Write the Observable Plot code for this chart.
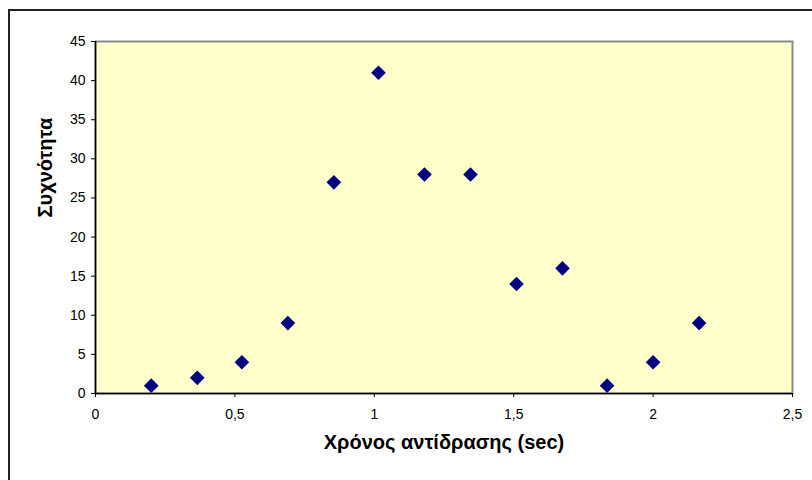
<!DOCTYPE html>
<html>
<head>
<meta charset="utf-8">
<script src="https://cdn.jsdelivr.net/npm/d3@7"></script>
<script src="https://cdn.jsdelivr.net/npm/@observablehq/plot@0.6"></script>
<style>
  body { margin: 0; background: #fff; }
  #wrap { position: relative; width: 812px; height: 480px; overflow: hidden; }
  #border { position: absolute; left: 8px; top: 9px; width: 900px; height: 600px; border: 2px solid #222; box-sizing: border-box; pointer-events: none; }
  svg { font-family: "Liberation Sans", Arial, sans-serif; }
</style>
</head>
<body>
<div id="wrap"><div id="border"></div></div>
<script>
// Reaction time (sec) bin centres and frequencies
const times = [0.2, 0.365, 0.525, 0.69, 0.855, 1.015, 1.18, 1.345, 1.51, 1.675, 1.835, 2.0, 2.165];
const freqs = [1, 2, 4, 9, 27, 41, 28, 28, 14, 16, 1, 4, 9];
const xTicks = [0, 0.5, 1, 1.5, 2, 2.5];
const yTicks = [0, 5, 10, 15, 20, 25, 30, 35, 40, 45];
const xTitle = "Χρόνος αντίδρασης (sec)";
const yTitle = "Συχνότητα";

const data = times.map((t, i) => ({t, f: freqs[i]}));
const fmt = v => String(v).replace(".", ",");

const chart = Plot.plot({
  width: 812,
  height: 480,
  marginLeft: 95,
  marginRight: 20,
  marginTop: 41,
  marginBottom: 87,
  style: {fontFamily: '"Liberation Sans", Arial, sans-serif', fontSize: "14px", color: "#000", background: "transparent"},
  x: {domain: [0, 2.5]},
  y: {domain: [0, 45]},
  marks: [
    Plot.frame({fill: "#FFFFCC", stroke: "#8a8a8a", strokeWidth: 2}),
    Plot.axisX({ticks: xTicks, tickFormat: fmt, tickSize: 4, tickPadding: 12, label: null, stroke: "#000", fontSize: 14}),
    Plot.axisY({ticks: yTicks, tickSize: 4, tickPadding: 6, label: null, stroke: "#000", fontSize: 14}),
    Plot.ruleY([0], {stroke: "#000", strokeWidth: 1.5}),
    Plot.ruleX([0], {stroke: "#000", strokeWidth: 1.5}),
    Plot.dot(data, {x: "t", y: "f", symbol: "diamond2", r: 6.6, fill: "#000080", stroke: "none"}),
    Plot.text([xTitle], {frameAnchor: "bottom", dy: 49, lineAnchor: "middle", fontWeight: "bold", fontSize: 20, fill: "#000"}),
    Plot.text([yTitle], {frameAnchor: "left", dx: -50, rotate: -90, lineAnchor: "middle", fontWeight: "bold", fontSize: 20, fill: "#000"})
  ]
});
chart.style.position = "absolute";
chart.style.left = "0";
chart.style.top = "0";
document.getElementById("wrap").prepend(chart);
</script>
</body>
</html>
